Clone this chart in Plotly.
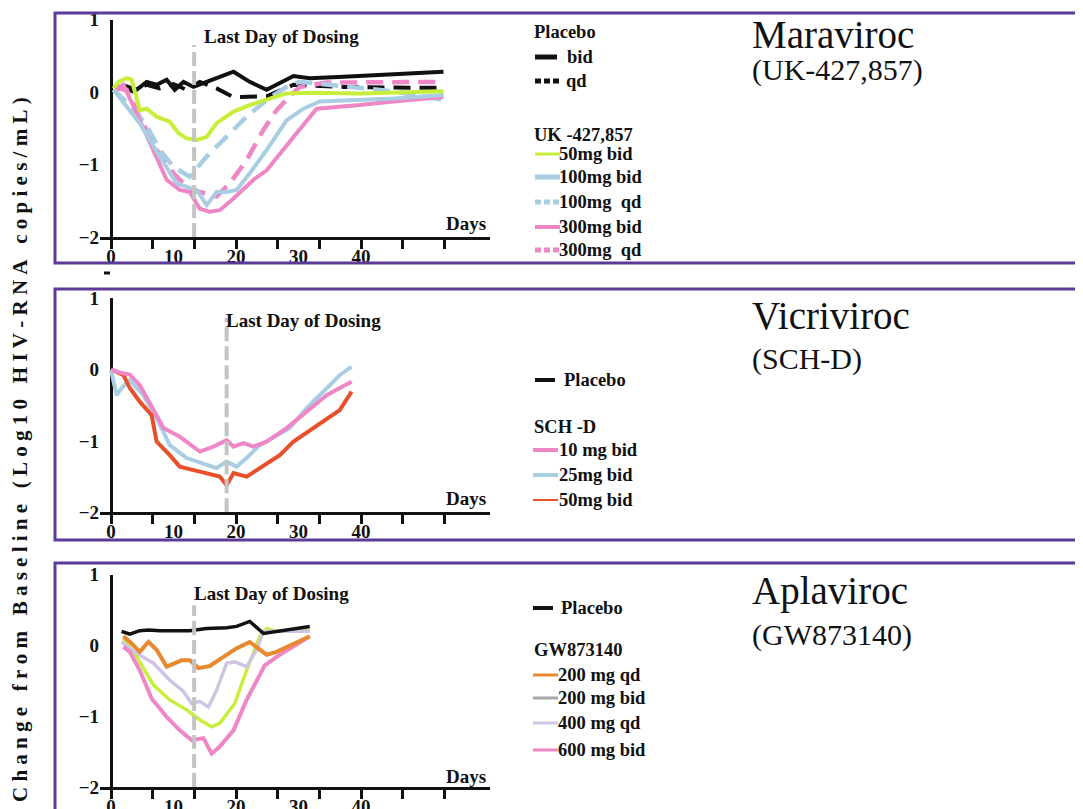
import plotly.graph_objects as go

# Page body has an 8px margin: the figure is placed at (8, 8) in the 1083x809 window.
OFF = 8
W, H = 1083 - OFF, 809 - OFF
SERIF = "Liberation Serif"

# ---------------- Panel 1: Maraviroc (UK-427,857) ----------------
mvc_placebo_bid_day = [1.7, 4.1, 5.7, 7.3, 8.9, 10.2, 11.6, 13.2, 15.3, 16.9, 19.6, 22.2, 24.9, 29.2, 31.8, 37.2, 45.2, 53.2]
mvc_placebo_bid = [0.10, 0.03, 0.14, 0.10, 0.17, 0.03, 0.14, 0.07, 0.14, 0.19, 0.28, 0.14, 0.03, 0.22, 0.19, 0.21, 0.24, 0.28]
mvc_placebo_qd_day = [1.4, 3.6, 5.7, 7.8, 10.0, 12.1, 14.2, 16.9, 19.6, 24.9, 29.2, 37.2, 47.8, 53.2]
mvc_placebo_qd = [0.05, 0.01, 0.10, 0.05, 0.11, 0.03, 0.14, 0.05, -0.07, -0.06, 0.10, 0.07, 0.06, 0.06]
mvc_50bid_day = [0.4, 1.2, 2.5, 3.3, 4.6, 5.7, 7.3, 9.4, 10.8, 12.1, 13.7, 15.3, 16.9, 19.6, 22.2, 24.9, 28.1, 31.8, 39.8, 53.2]
mvc_50bid = [0.05, 0.14, 0.19, 0.17, -0.25, -0.23, -0.34, -0.41, -0.57, -0.64, -0.66, -0.62, -0.43, -0.27, -0.18, -0.11, -0.02, -0.01, -0.02, 0.01]
mvc_100bid_day = [0.4, 2.5, 4.6, 6.8, 8.9, 10.5, 12.1, 13.7, 15.3, 16.9, 18.5, 20.1, 22.2, 24.9, 28.1, 30.8, 33.4, 39.8, 45.2, 53.2]
mvc_100bid = [0.03, -0.20, -0.43, -0.75, -1.03, -1.26, -1.31, -1.35, -1.56, -1.38, -1.38, -1.35, -1.12, -0.80, -0.39, -0.23, -0.13, -0.11, -0.09, -0.04]
mvc_100qd_day = [0.4, 3.0, 5.7, 7.8, 10.0, 12.6, 15.3, 18.5, 21.7, 24.9, 28.6, 30.2, 34.5, 39.8, 45.2, 53.2]
mvc_100qd = [0.03, -0.18, -0.46, -0.80, -1.03, -1.17, -0.89, -0.62, -0.34, -0.11, 0.10, 0.14, 0.10, 0.06, 0.01, -0.11]
mvc_300bid_day = [0.6, 2.0, 4.6, 6.8, 8.9, 11.0, 12.6, 14.2, 15.8, 17.4, 19.6, 22.8, 24.9, 29.2, 32.9, 39.8, 45.2, 53.2]
mvc_300bid = [0.05, 0.10, -0.39, -0.80, -1.21, -1.35, -1.38, -1.61, -1.65, -1.63, -1.47, -1.21, -1.08, -0.62, -0.23, -0.18, -0.13, -0.07]
mvc_300qd_day = [0.6, 2.5, 4.6, 7.3, 10.0, 12.6, 15.3, 16.9, 19.0, 21.7, 24.4, 26.5, 28.6, 30.2, 34.5, 45.2, 53.2]
mvc_300qd = [0.05, 0.03, -0.34, -0.80, -1.12, -1.35, -1.40, -1.44, -1.26, -0.94, -0.52, -0.25, -0.06, 0.07, 0.13, 0.13, 0.14]
mvc_last_day = 13.3

# ---------------- Panel 2: Vicriviroc (SCH-D) ----------------
vcv_10bid_day = [0, 1.7, 3.0, 4.6, 6.2, 8.4, 11.0, 14.2, 16.4, 18.5, 19.6, 21.2, 22.8, 24.9, 28.1, 31.3, 34.5, 36.6, 38.5]
vcv_10bid = [0, -0.05, -0.07, -0.22, -0.47, -0.82, -0.94, -1.15, -1.08, -0.99, -1.08, -1.03, -1.08, -1.01, -0.82, -0.59, -0.36, -0.26, -0.17]
vcv_25bid_day = [0, 0.9, 1.7, 3.0, 5.2, 7.3, 9.4, 12.1, 16.9, 18.5, 20.1, 21.7, 23.8, 28.6, 31.3, 34.0, 36.6, 38.5]
vcv_25bid = [0, -0.36, -0.26, -0.15, -0.36, -0.68, -1.06, -1.24, -1.38, -1.29, -1.36, -1.24, -1.06, -0.82, -0.54, -0.31, -0.08, 0.04]
vcv_50bid_day = [0.1, 2.0, 3.0, 4.6, 6.5, 7.3, 9.4, 11.0, 14.2, 17.4, 18.5, 19.6, 21.7, 23.8, 27.0, 29.2, 32.4, 35.0, 36.6, 38.5]
vcv_50bid = [0, -0.08, -0.26, -0.45, -0.64, -1.01, -1.20, -1.36, -1.43, -1.50, -1.62, -1.45, -1.50, -1.38, -1.20, -1.01, -0.82, -0.68, -0.57, -0.31]
vcv_last_day = 18.5

# ---------------- Panel 3: Aplaviroc (GW873140) ----------------
apl_placebo_day = [1.7, 3.0, 4.6, 6.0, 7.8, 12.6, 15.3, 18.5, 20.1, 22.2, 24.4, 26.5, 31.8]
apl_placebo = [0.20, 0.16, 0.21, 0.22, 0.21, 0.21, 0.24, 0.25, 0.27, 0.34, 0.17, 0.20, 0.27]
apl_200qd_day = [2.0, 3.3, 4.6, 6.0, 7.3, 8.9, 11.3, 12.6, 14.0, 15.8, 18.0, 20.1, 22.2, 24.9, 26.5, 31.8]
apl_200qd = [0.13, 0.03, -0.09, 0.05, -0.06, -0.30, -0.21, -0.21, -0.32, -0.29, -0.16, -0.04, 0.05, -0.13, -0.09, 0.13]
apl_200bid_day = [2.0, 4.1, 6.8, 9.4, 12.1, 14.2, 16.1, 17.4, 19.8, 21.7, 23.8, 24.9, 26.5, 31.8]
apl_200bid = [0.10, -0.16, -0.56, -0.77, -0.91, -1.05, -1.15, -1.10, -0.82, -0.35, 0.13, 0.24, 0.20, 0.22]
apl_400qd_day = [1.7, 4.1, 6.8, 9.4, 11.6, 12.9, 14.2, 15.6, 16.9, 18.5, 19.8, 21.7, 23.3, 24.4, 26.5, 31.8]
apl_400qd = [0.05, -0.11, -0.25, -0.49, -0.65, -0.82, -0.79, -0.87, -0.63, -0.25, -0.23, -0.30, -0.06, 0.20, 0.20, 0.20]
apl_600bid_day = [2.0, 3.0, 4.6, 6.5, 8.9, 11.0, 12.9, 14.8, 16.1, 17.4, 19.6, 21.7, 24.6, 26.5, 31.8]
apl_600bid = [-0.02, -0.09, -0.35, -0.75, -1.01, -1.20, -1.34, -1.31, -1.53, -1.43, -1.20, -0.77, -0.28, -0.16, 0.13]
apl_last_day = 13.3

# ---------------- labels ----------------
x_tick_vals = [0, 10, 20, 30, 40]
x_tick_text = ["0", "10", "20", "30", "40"]
y_tick_vals = [-2, -1, 0, 1]
y_title = "Change from Baseline (Log10 HIV-RNA copies/mL)"
drug_names = ["Maraviroc", "Vicriviroc", "Aplaviroc"]
drug_codes = ["(UK-427,857)", "(SCH-D)", "(GW873140)"]
legend_headers = [["Placebo", "UK -427,857"], ["SCH -D"], ["GW873140"]]
mvc_labels = ["bid", "qd", "50mg bid", "100mg bid", "100mg  qd", "300mg bid", "300mg  qd"]
vcv_labels = ["Placebo", "10 mg bid", "25mg bid", "50mg bid"]
apl_labels = ["Placebo", "200 mg qd", "200 mg bid", "400 mg qd", "600 mg bid"]

BLACK = "#111111"
GREEN = "#c8ee3c"
BLUE = "#a9cde2"
PINK = "#ef86c5"
RED = "#e84f2a"
ORANGE = "#e8882f"
LAV = "#d0c4e4"
GRAY = "#a8a8a8"
PURPLE = "#5b3b97"
DOSEGRAY = "#c4c4c4"
DASH = "17px,9px"

fig = go.Figure()

def add_line(ax, xs, ys, color, width=4, dash="solid"):
    fig.add_trace(go.Scatter(x=xs, y=ys, mode="lines", xaxis="x" + ax, yaxis="y" + ax,
                             line=dict(color=color, width=width, dash=dash, shape="linear"),
                             showlegend=False, hoverinfo="skip"))

# panel 1
add_line("", mvc_placebo_qd_day, mvc_placebo_qd, BLACK, 4, DASH)
add_line("", mvc_placebo_bid_day, mvc_placebo_bid, BLACK, 4)
add_line("", mvc_300qd_day, mvc_300qd, PINK, 4.5, DASH)
add_line("", mvc_100qd_day, mvc_100qd, BLUE, 4.5, DASH)
add_line("", mvc_300bid_day, mvc_300bid, PINK, 4)
add_line("", mvc_100bid_day, mvc_100bid, BLUE, 4)
add_line("", mvc_50bid_day, mvc_50bid, GREEN, 4)
# panel 2
add_line("2", vcv_25bid_day, vcv_25bid, BLUE, 4)
add_line("2", vcv_50bid_day, vcv_50bid, RED, 4)
add_line("2", vcv_10bid_day, vcv_10bid, PINK, 4)
# panel 3
add_line("3", apl_200bid_day, apl_200bid, GREEN, 3.5)
add_line("3", apl_400qd_day, apl_400qd, LAV, 3.5)
add_line("3", apl_600bid_day, apl_600bid, PINK, 4)
add_line("3", apl_200qd_day, apl_200qd, ORANGE, 4)
add_line("3", apl_placebo_day, apl_placebo, BLACK, 3.5)


def px(x, y):
    """window pixel -> paper fraction"""
    return (x - OFF) / W, 1 - (y - OFF) / H

# ---------------- axes ----------------
x_dom = [px(100, 0)[0], px(490, 0)[0]]
x_rng = [-1.76, 60.64]
y_pix = [(237, 19.5), (512.3, 298.1), (786.9, 574.8)]
y_doms = [[px(0, b)[1], px(0, t)[1]] for b, t in y_pix]
minor_vals = [k * 20 / 3 + 1e-4 for k in range(9)]
tickfont = dict(family=SERIF, size=19, color=BLACK, weight="bold")

layout_axes = {}
for i, suf in enumerate(["", "2", "3"]):
    layout_axes["xaxis" + suf] = dict(
        domain=x_dom, range=x_rng, anchor="y" + suf, showgrid=False, automargin=False,
        zeroline=True, zerolinecolor=BLACK, zerolinewidth=3,
        showline=True, linecolor=BLACK, linewidth=3,
        tickmode="array", tickvals=x_tick_vals, ticktext=x_tick_text, ticks="",
        tickfont=tickfont,
        minor=dict(tickmode="array", tickvals=minor_vals, ticks="outside",
                   ticklen=9, tickwidth=3, tickcolor=BLACK, showgrid=False),
    )
    layout_axes["yaxis" + suf] = dict(
        domain=y_doms[i], range=[-2, 1], anchor="x" + suf, showgrid=False, automargin=False,
        zeroline=False, showline=False, tickmode="array", tickvals=y_tick_vals,
        ticks="", tickfont=tickfont,
    )

# ---------------- annotations & shapes ----------------
annotations = []
shapes = []

def add_text(x, y, text, size, bold=True, xanchor="left", angle=0):
    X, Y = px(x, y)
    annotations.append(dict(x=X, y=Y, xref="paper", yref="paper", text=text, showarrow=False,
                            xanchor=xanchor, yanchor="middle", textangle=angle, borderpad=0,
                            font=dict(family=SERIF, size=size, color=BLACK,
                                      weight="bold" if bold else "normal")))

def add_swatch(x0, x1, y, color, width, dash="solid"):
    X0, Y = px(x0, y)
    X1, _ = px(x1, y)
    shapes.append(dict(type="line", xref="paper", yref="paper", x0=X0, x1=X1, y0=Y, y1=Y,
                       line=dict(color=color, width=width, dash=dash)))

# purple frames
for top, bot in [(13, 263), (289, 540), (563, 830)]:
    X0, Y1 = px(55, top)
    X1, Y0 = px(1100, bot)
    shapes.append(dict(type="rect", xref="paper", yref="paper", x0=X0, x1=X1, y0=Y0, y1=Y1,
                       line=dict(color=PURPLE, width=3)))
add_swatch(104, 110, 273, BLACK, 3)

# last day of dosing lines
for suf, day, ytop in [("", mvc_last_day, 0.65), ("2", vcv_last_day, 0.72), ("3", apl_last_day, 0.57)]:
    shapes.append(dict(type="line", xref="x" + suf, yref="y" + suf, x0=day, x1=day, y0=-2, y1=ytop,
                       layer="above", line=dict(color=DOSEGRAY, width=4, dash="14px,5px")))

for x, y in [(203, 37), (225, 320), (193, 593)]:
    add_text(x, y, "Last Day of Dosing", 19)
for y in [223, 498, 776]:
    add_text(487, y, "Days", 19, xanchor="right")

# drug titles: two lines in one text block (line gap = 1.3 x base font size)
for (yc, gap), name, code in zip([(50, 32), (335, 40), (610, 41)], drug_names, drug_codes):
    txt = ('<span style="font-size:39px">' + name + '</span><br>'
           '<span style="font-size:30px">' + code + '</span>')
    X, Y = px(751, yc)
    annotations.append(dict(x=X, y=Y, xref="paper", yref="paper", text=txt, showarrow=False,
                            xanchor="left", yanchor="middle", align="left", borderpad=0,
                            font=dict(family=SERIF, size=gap / 1.3, color=BLACK)))

# y axis title
spaced = "\u00a0".join(y_title.replace(" ", "\u00a0"))
add_text(20, 450, spaced, 21, xanchor="center", angle=-90)

LF = 18.5
# legend panel 1
add_text(533, 32, legend_headers[0][0], LF)
add_swatch(535, 557, 57, BLACK, 5)
add_text(566, 57, mvc_labels[0], LF)
add_swatch(535, 560, 81, BLACK, 5, "6px,3px")
add_text(565, 81, mvc_labels[1], LF)
add_text(533, 135, legend_headers[0][1], LF)
p1_styles = [(GREEN, 3, "solid"), (BLUE, 5, "solid"), (BLUE, 5, "6px,3px"),
             (PINK, 4, "solid"), (PINK, 5, "6px,3px")]
for (c, w, d), lab, y in zip(p1_styles, mvc_labels[2:], [154, 177, 202, 227, 250]):
    add_swatch(535, 560, y, c, w, d)
    add_text(558, y, lab, LF)

# legend panel 2
add_swatch(535, 555, 380, BLACK, 4)
add_text(563, 380, vcv_labels[0], LF)
add_text(533, 427, legend_headers[1][0], LF)
for (c, w), lab, y in zip([(PINK, 4), (BLUE, 4), (RED, 2)], vcv_labels[1:], [450, 475, 500]):
    add_swatch(533, 558, y, c, w)
    add_text(558, y, lab, LF)

# legend panel 3
add_swatch(533, 553, 608, BLACK, 4)
add_text(560, 608, apl_labels[0], LF)
add_text(533, 650, legend_headers[2][0], LF)
for c, lab, y in zip([ORANGE, GRAY, LAV, PINK], apl_labels[1:], [675, 698, 723, 750]):
    add_swatch(533, 558, y, c, 3)
    add_text(557, y, lab, LF)

fig.update_layout(
    width=W, height=H, margin=dict(l=0, r=0, t=0, b=0, autoexpand=False),
    paper_bgcolor="white", plot_bgcolor="rgba(0,0,0,0)", showlegend=False,
    annotations=annotations, shapes=shapes, **layout_axes,
)

fig.write_html("out.html")
